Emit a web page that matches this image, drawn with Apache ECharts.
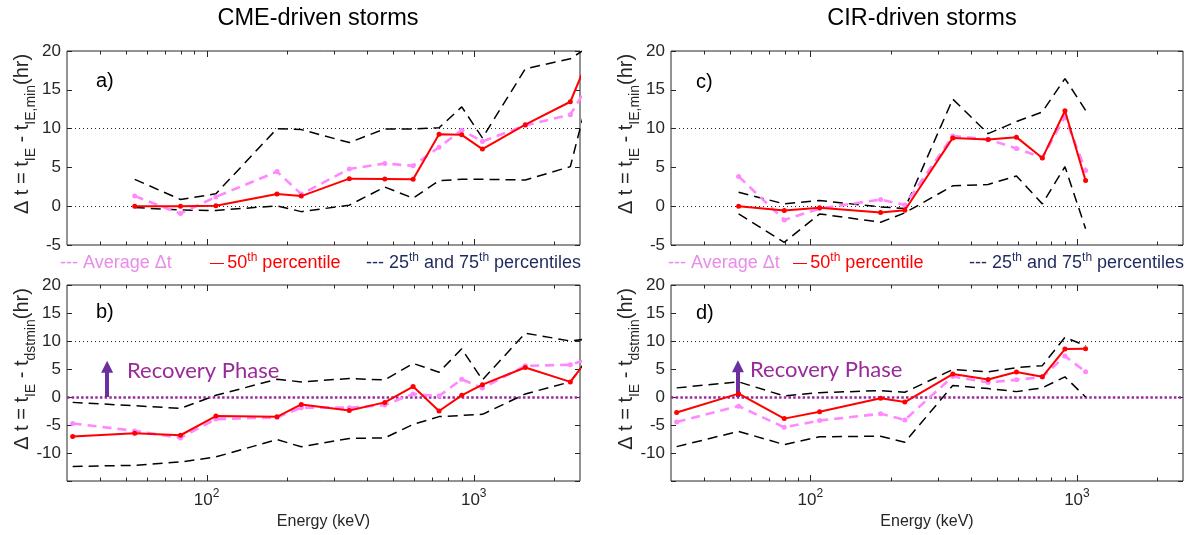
<!DOCTYPE html>
<html>
<head>
<meta charset="utf-8">
<script src="https://cdn.jsdelivr.net/npm/echarts@6/dist/echarts.min.js"></script>
<style>
  html, body { margin: 0; padding: 0; background: #fff; }
  #chart { width: 1191px; height: 535px; }
</style>
</head>
<body>
<div id="chart"></div>
<script>
// Energy channels (keV)
const energies = [31.5, 53.8, 79.8, 108.3, 183.4, 226.1, 342.1, 464.4, 593.0, 741.6, 901.8, 1077.7, 1560, 2300, 2600];

// CME-driven storms, delay relative to t_IE,min (hr)
const cmeMinAvg = [null, 1.3, -0.95, 1.2, 4.46, 1.56, 4.8, 5.5, 5.2, 7.6, 9.8, 8.35, 10.4, 11.8, 14.8];
const cmeMinP50 = [null, 0, 0, 0.05, 1.56, 1.3, 3.55, 3.5, 3.46, 9.26, 9.2, 7.36, 10.5, 13.46, 17.86];
const cmeMinP75 = [null, 3.46, 0.87, 1.6, 10.0, 9.87, 8.2, 9.96, 9.96, 10.1, 12.8, 8.8, 17.7, 19.0, 20.2];
const cmeMinP25 = [null, -0.17, -0.5, -0.55, 0.05, -0.7, 0.13, 2.47, 1.04, 3.3, 3.46, 3.46, 3.38, 5.1, 12.26];

// CME-driven storms, delay relative to t_dstmin (hr)
const cmeDstAvg = [-4.73, -6.05, -7.3, -3.95, -3.65, -1.9, -1.9, -1.44, 0.54, 0.18, 3.17, 1.6, 5.57, 5.75, 6.56];
const cmeDstP50 = [-7.07, -6.47, -6.83, -3.41, -3.53, -1.32, -2.4, -0.96, 1.86, -2.5, 0.3, 2.2, 5.27, 2.7, 6.04];
const cmeDstP75 = [-0.96, -1.56, -2.04, 0.3, 3.17, 2.7, 3.3, 3.05, 6.0, 4.43, 8.6, 3.05, 11.4, 10.0, 10.3];
const cmeDstP25 = [-12.4, -12.2, -11.6, -10.7, -7.6, -8.9, -7.4, -7.3, -4.9, -3.5, -3.3, -3.1, 0.54, 2.7, 6.09];

// CIR-driven storms, delay relative to t_IE,min (hr)
const cirMinAvg = [null, 3.84, -1.77, -0.3, 0.86, 0.17, 9.05, 8.6, 7.45, 6.25, 11.55, 4.6];
const cirMinP50 = [null, 0, -0.56, -0.2, -0.82, -0.52, 8.8, 8.58, 8.9, 6.2, 12.3, 3.3];
const cirMinP75 = [null, 1.8, 0.3, 0.73, -0.1, -0.3, 13.8, 9.35, 10.9, 12.15, 16.45, 12.35];
const cirMinP25 = [null, -1.0, -4.65, -0.99, -2.07, -0.86, 2.63, 2.8, 3.9, 0.3, 5.1, -2.9];

// CIR-driven storms, delay relative to t_dstmin (hr)
const cirDstAvg = [-4.46, -1.63, -5.42, -4.2, -3.0, -4.1, 3.67, 2.6, 3.07, 3.55, 7.3, 4.5];
const cirDstP50 = [-2.77, 0.6, -3.86, -2.65, -0.24, -0.9, 4.1, 3.13, 4.46, 3.6, 8.55, 8.6];
const cirDstP75 = [1.63, 2.7, 0.18, 0.78, 1.14, 0.84, 4.9, 4.5, 5.24, 5.6, 10.66, 9.15];
const cirDstP25 = [-8.86, -6.14, -8.5, -7.1, -7.0, -8.07, 2.05, 1.5, 0.96, 1.63, 3.6, 0.0];

// Axis ticks
const xTickValues = [40, 50, 60, 70, 80, 90, 100, 200, 300, 400, 500, 600, 700, 800, 900, 1000, 2000];
const xMajorTicks = [100, 1000];
const xRange = [30, 2500];
const yRangeIE = [-5, 20];
const yRangeDst = [-15, 20];

// Recovery-phase arrow: energy (keV), from value, to value (hr)
const arrowCme = [42.4, 0, 5.4];
const arrowCir = [53.5, 0, 5.5];

const FONT = '"Liberation Sans", Arial, Helvetica, sans-serif';
const INK = '#262626';
const PINK = '#ff88ff';
const PINK_TEXT = '#e98be9';
const RED = '#ff0000';
const NAVY = '#1f2a5e';
const PURPLE_DOT = '#9b2a9f';
const PURPLE_TEXT = '#9a2a9a';
const PURPLE_ARROW = '#6b2f9f';

const panels = [
  { grid: { left: 67, top: 51, width: 513, height: 194 }, yr: yRangeIE, avg: cmeMinAvg, p50: cmeMinP50, p75: cmeMinP75, p25: cmeMinP25, dst: false, xlabels: false },
  { grid: { left: 67, top: 285, width: 513, height: 196 }, yr: yRangeDst, avg: cmeDstAvg, p50: cmeDstP50, p75: cmeDstP75, p25: cmeDstP25, dst: true, xlabels: true, arrow: arrowCme },
  { grid: { left: 671, top: 51, width: 512, height: 194 }, yr: yRangeIE, avg: cirMinAvg, p50: cirMinP50, p75: cirMinP75, p25: cirMinP25, dst: false, xlabels: false },
  { grid: { left: 671, top: 285, width: 512, height: 196 }, yr: yRangeDst, avg: cirDstAvg, p50: cirDstP50, p75: cirDstP75, p25: cirDstP25, dst: true, xlabels: true, arrow: arrowCir }
];

function pairs(vals) {
  return energies.map((e, i) => [e, vals[i]]).filter(p => p[1] !== null && p[1] !== undefined);
}

const subRich = {
  g: { fontSize: 20, fontFamily: FONT, color: INK, lineHeight: 31, width: 28 },
  m: { fontSize: 20, fontFamily: FONT, color: INK, lineHeight: 31 },
  s: { fontSize: 14, fontFamily: FONT, color: INK, lineHeight: 10, verticalAlign: 'bottom' }
};
// leading blank token lifts the centred name along the axis
const nameIE = '{g|}{m|\u0394 t = t}{s|IE}{m| - t}{s|IE,min}{m|(hr)}';
const nameDst = '{g|}{m|\u0394 t = t}{s|IE}{m| - t}{s|dstmin}{m|(hr)}';

const grid = [], xAxis = [], yAxis = [], series = [];
const DASH = [10, 6];

panels.forEach((p, i) => {
  grid.push(Object.assign({ show: true, borderColor: INK, borderWidth: 1, backgroundColor: 'transparent', outerBoundsMode: 'none' }, p.grid));

  xAxis.push({
    type: 'log', logBase: 10, gridIndex: i, min: xRange[0], max: xRange[1],
    axisLine: { show: false }, axisTick: { show: false }, splitLine: { show: false },
    axisLabel: {
      show: p.xlabels, margin: 7, color: INK,
      formatter: v => {
        const k = Math.log10(v);
        return Math.abs(k - Math.round(k)) < 1e-6 ? '{b|10}{e|' + Math.round(k) + '}' : '';
      },
      rich: {
        b: { fontSize: 17, fontFamily: FONT, color: INK, lineHeight: 24 },
        e: { fontSize: 12, fontFamily: FONT, color: INK, lineHeight: 12, verticalAlign: 'top' }
      }
    },
    name: p.xlabels ? 'Energy (keV)' : '', nameLocation: 'middle', nameGap: 33, nameMoveOverlap: false,
    nameTextStyle: { fontSize: 16, fontFamily: FONT, color: INK }
  });

  yAxis.push({
    type: 'value', gridIndex: i, position: 'left', min: p.yr[0], max: p.yr[1], interval: 5,
    axisLine: { show: false }, splitLine: { show: false },
    axisTick: { show: true, inside: true, length: 5, lineStyle: { color: INK } },
    axisLabel: { color: INK, fontSize: 17, fontFamily: FONT, margin: 6, formatter: v => (v < -12 ? '' : String(v)) },
    name: p.dst ? nameDst : nameIE, nameLocation: 'middle', nameRotate: 90, nameGap: 29, nameMoveOverlap: false,
    nameTextStyle: { rich: subRich }
  });
  yAxis.push({
    type: 'value', gridIndex: i, position: 'right', min: p.yr[0], max: p.yr[1], interval: 5,
    axisLine: { show: false }, splitLine: { show: false }, axisLabel: { show: false },
    axisTick: { show: true, inside: true, length: 5, lineStyle: { color: INK } }
  });

  const yi = 2 * i;
  const yMin = p.yr[0], yMax = p.yr[1];

  // log-axis tick marks along bottom and top edges
  series.push({
    type: 'custom', xAxisIndex: i, yAxisIndex: yi, silent: true, clip: false, z: 4,
    data: xTickValues.map(v => [v, yMin]),
    renderItem: (params, api) => {
      const v = api.value(0);
      const lo = api.coord([v, yMin]);
      const hi = api.coord([v, yMax]);
      const len = xMajorTicks.includes(v) ? 6 : 3.5;
      const x = Math.round(lo[0]) + 0.5;
      return {
        type: 'group',
        children: [
          { type: 'line', shape: { x1: x, y1: lo[1], x2: x, y2: lo[1] - len }, style: { stroke: INK, lineWidth: 1 } },
          { type: 'line', shape: { x1: x, y1: hi[1], x2: x, y2: hi[1] + len }, style: { stroke: INK, lineWidth: 1 } }
        ]
      };
    }
  });

  // 25th percentile
  series.push({
    type: 'line', xAxisIndex: i, yAxisIndex: yi, data: pairs(p.p25), symbol: 'none', silent: true, z: 5,
    lineStyle: { color: '#000', width: 1.5, type: DASH }
  });
  // 75th percentile, carries the black dotted reference lines
  series.push({
    type: 'line', xAxisIndex: i, yAxisIndex: yi, data: pairs(p.p75), symbol: 'none', silent: true, z: 5,
    lineStyle: { color: '#000', width: 1.5, type: DASH },
    markLine: {
      silent: true, symbol: ['none', 'none'], label: { show: false },
      lineStyle: { color: INK, width: 1, type: [1, 3] },
      data: p.dst ? [{ yAxis: 10 }] : [{ yAxis: 0 }, { yAxis: 10 }]
    }
  });
  // average
  series.push({
    type: 'line', xAxisIndex: i, yAxisIndex: yi, data: pairs(p.avg), silent: true, z: 6,
    symbol: 'circle', symbolSize: 5, itemStyle: { color: PINK },
    lineStyle: { color: PINK, width: 2.6, type: [9, 6] }
  });
  // median
  series.push({
    type: 'line', xAxisIndex: i, yAxisIndex: yi, data: pairs(p.p50), silent: true, z: 7,
    symbol: 'circle', symbolSize: 5, itemStyle: { color: RED },
    lineStyle: { color: RED, width: 2 }
  });

  if (p.dst) {
    // purple zero line
    series.push({
      type: 'line', xAxisIndex: i, yAxisIndex: yi, data: [], silent: true, z: 8,
      markLine: {
        silent: true, symbol: ['none', 'none'], label: { show: false },
        lineStyle: { color: PURPLE_DOT, width: 2.5, type: [2.5, 2.2] },
        data: [{ yAxis: 0 }]
      }
    });
    // recovery-phase arrow
    series.push({
      type: 'line', xAxisIndex: i, yAxisIndex: yi, data: [], silent: true, z: 9,
      markLine: {
        silent: true, label: { show: false },
        data: [[
          { coord: [p.arrow[0], p.arrow[1]], symbol: 'none', lineStyle: { color: PURPLE_ARROW, width: 4, type: 'solid' } },
          { coord: [p.arrow[0], p.arrow[2]], symbol: 'triangle', symbolSize: [12, 12] }
        ]]
      }
    });
  }
});

function legend(x) {
  const f = 18;
  return [
    { type: 'text', x: x[0], y: 263, style: { text: '--- Average \u0394t', fill: PINK_TEXT, font: f + 'px ' + FONT, verticalAlign: 'middle' } },
    { type: 'text', x: x[1], y: 263, style: {
      text: '{d|\u2014} {r|50}{s|th}{r| percentile}', verticalAlign: 'middle',
      rich: {
        d: { fontSize: 14, fontFamily: FONT, fill: RED, lineHeight: 22 },
        r: { fontSize: f, fontFamily: FONT, fill: RED, lineHeight: 22 },
        s: { fontSize: 12, fontFamily: FONT, fill: RED, lineHeight: 11, verticalAlign: 'top' }
      } } },
    { type: 'text', x: x[2], y: 263, style: {
      text: '{n|--- 25}{s|th}{n| and 75}{s|th}{n| percentiles}', verticalAlign: 'middle',
      rich: {
        n: { fontSize: f, fontFamily: FONT, fill: NAVY, lineHeight: 22 },
        s: { fontSize: 12, fontFamily: FONT, fill: NAVY, lineHeight: 11, verticalAlign: 'top' }
      } } }
  ];
}

const labelFont = '20px ' + FONT;
const graphic = [
  { type: 'text', x: 318, y: 19, style: { text: 'CME-driven storms', font: '23.5px ' + FONT, fill: '#000', align: 'center', verticalAlign: 'middle' } },
  { type: 'text', x: 922, y: 19, style: { text: 'CIR-driven storms', font: '23.5px ' + FONT, fill: '#000', align: 'center', verticalAlign: 'middle' } },
  { type: 'text', x: 96, y: 81, style: { text: 'a)', font: labelFont, fill: '#000', verticalAlign: 'middle' } },
  { type: 'text', x: 96, y: 312, style: { text: 'b)', font: labelFont, fill: '#000', verticalAlign: 'middle' } },
  { type: 'text', x: 696, y: 82, style: { text: 'c)', font: labelFont, fill: '#000', verticalAlign: 'middle' } },
  { type: 'text', x: 696, y: 313, style: { text: 'd)', font: labelFont, fill: '#000', verticalAlign: 'middle' } },
  { type: 'text', x: 127, y: 371, z: 10, style: { text: 'Recovery Phase', font: '22px Lato, "Open Sans", sans-serif', fill: PURPLE_TEXT, verticalAlign: 'middle' } },
  { type: 'text', x: 750, y: 370, z: 10, style: { text: 'Recovery Phase', font: '22px Lato, "Open Sans", sans-serif', fill: PURPLE_TEXT, verticalAlign: 'middle' } }
].concat(legend([60, 210, 366]), legend([668, 793, 969]));

const chart = echarts.init(document.getElementById('chart'), null, { renderer: 'canvas' });
chart.setOption({
  animation: false,
  backgroundColor: '#fff',
  grid, xAxis, yAxis, series, graphic
});
</script>
</body>
</html>
